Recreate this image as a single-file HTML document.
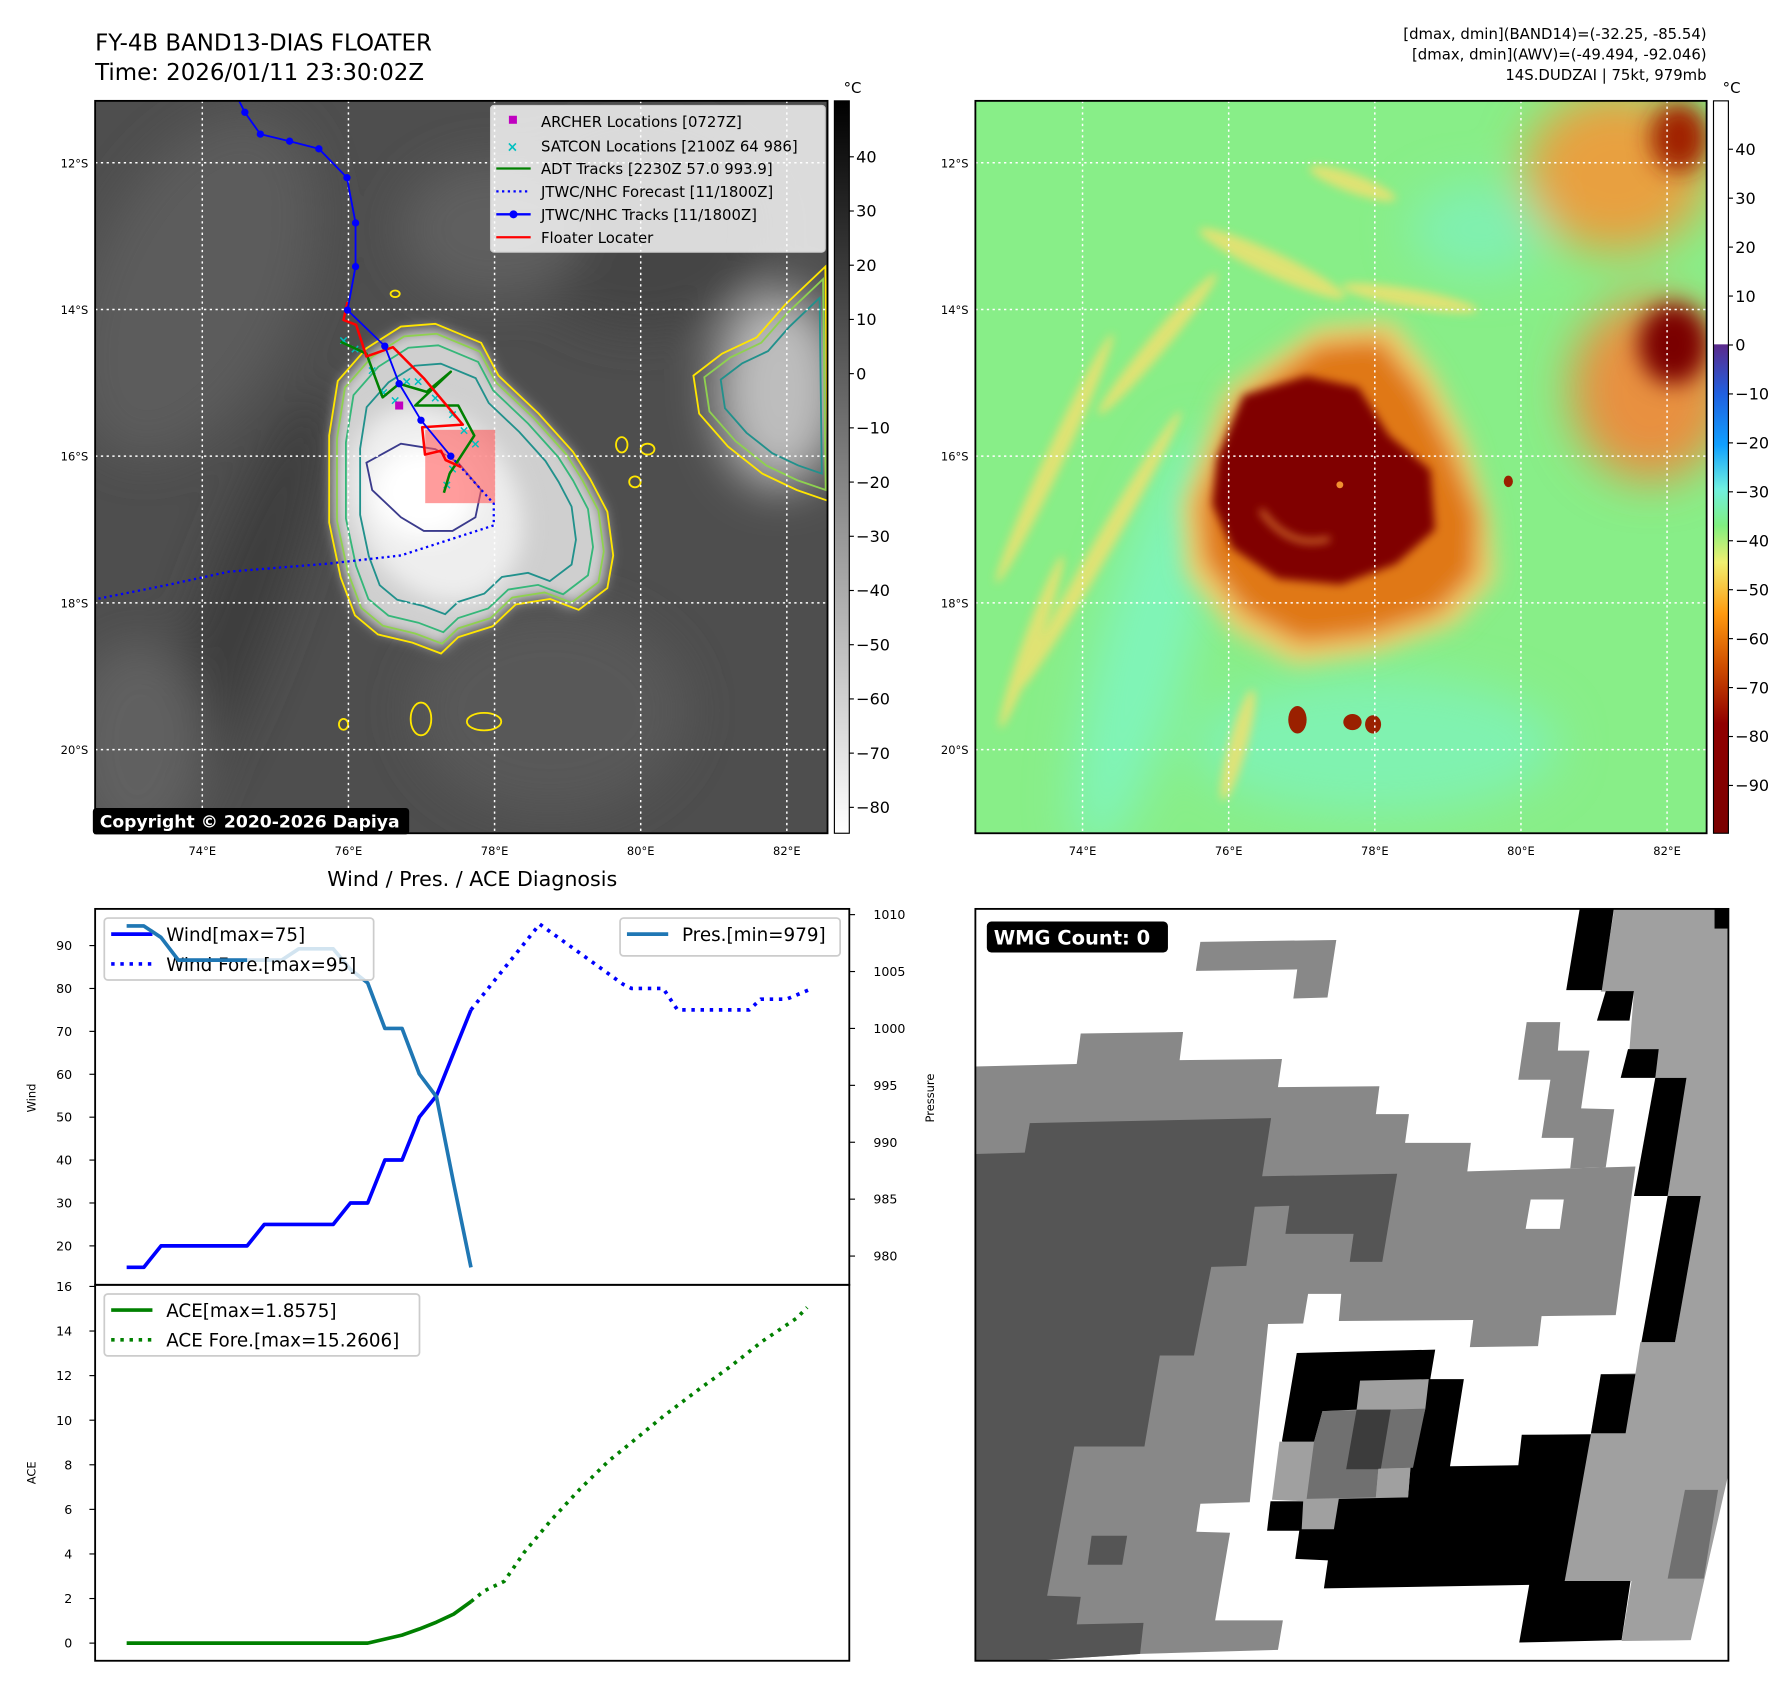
<!DOCTYPE html>
<html><head><meta charset="utf-8"><style>
html,body{margin:0;padding:0;background:#fff;}
svg{display:block;font-family:"DejaVu Sans","Liberation Sans",sans-serif;}
</style></head><body>
<svg id="root" xmlns="http://www.w3.org/2000/svg" width="1788" height="1690" viewBox="0 0 1560 1474.5">
<defs>
<filter id="b4" x="-50%" y="-50%" width="200%" height="200%"><feGaussianBlur stdDeviation="4"/></filter>
<filter id="b6" x="-50%" y="-50%" width="200%" height="200%"><feGaussianBlur stdDeviation="6"/></filter>
<filter id="b10" x="-50%" y="-50%" width="200%" height="200%"><feGaussianBlur stdDeviation="10"/></filter>
<filter id="b20" x="-50%" y="-50%" width="200%" height="200%"><feGaussianBlur stdDeviation="20"/></filter>
<clipPath id="c1"><rect x="83" y="88" width="639" height="639"/></clipPath>
<clipPath id="c2"><rect x="851" y="88" width="638" height="639"/></clipPath>
<clipPath id="c4"><rect x="851" y="793" width="657" height="656"/></clipPath>
<linearGradient id="gGray" x1="0" y1="0" x2="0" y2="1">
<stop offset="0" stop-color="#000"/><stop offset="1" stop-color="#fff"/></linearGradient>
<linearGradient id="gJet" x1="0" y1="0" x2="0" y2="1">
<stop offset="0" stop-color="#fff"/><stop offset="0.332" stop-color="#fff"/>
<stop offset="0.333" stop-color="#5b2a8c"/><stop offset="0.40" stop-color="#2060e0"/>
<stop offset="0.47" stop-color="#10a0ff"/><stop offset="0.53" stop-color="#70f0e0"/>
<stop offset="0.58" stop-color="#80f080"/><stop offset="0.63" stop-color="#f0f070"/>
<stop offset="0.70" stop-color="#ff9a10"/><stop offset="0.77" stop-color="#d05000"/>
<stop offset="0.85" stop-color="#900000"/><stop offset="1" stop-color="#7a0000"/></linearGradient>
</defs>

<text x="83" y="44" font-size="20">FY-4B BAND13-DIAS FLOATER</text>
<text x="83" y="70" font-size="20">Time: 2026/01/11 23:30:02Z</text>
<g font-size="13" text-anchor="end">
<text x="1489" y="34">[dmax, dmin](BAND14)=(-32.25, -85.54)</text>
<text x="1489" y="52">[dmax, dmin](AWV)=(-49.494, -92.046)</text>
<text x="1489" y="70">14S.DUDZAI | 75kt, 979mb</text>
</g>

<!-- MAP 1 -->
<g id="map1" clip-path="url(#c1)">
<rect x="83" y="88" width="639" height="639" fill="#4e4e4e"/>
<g filter="url(#b20)">
<ellipse cx="170" cy="250" rx="90" ry="160" fill="#5c5c5c" transform="rotate(25 170 250)"/>
<ellipse cx="210" cy="530" rx="35" ry="200" fill="#3e3e3e" transform="rotate(20 210 530)"/>
<ellipse cx="120" cy="650" rx="60" ry="90" fill="#606060"/>
<ellipse cx="480" cy="620" rx="120" ry="90" fill="#585858"/>
<ellipse cx="560" cy="200" rx="110" ry="90" fill="#444"/>
<ellipse cx="430" cy="200" rx="80" ry="60" fill="#5f5f5f"/>
<ellipse cx="680" cy="340" rx="55" ry="85" fill="#bdbdbd"/>
</g>
<g filter="url(#b6)">
<path id="blob" d="" fill="#cfcfcf"/>
</g>
<g filter="url(#b10)">
<ellipse cx="380" cy="440" rx="70" ry="90" fill="#eee" transform="rotate(-30 380 440)"/>
<ellipse cx="370" cy="430" rx="45" ry="40" fill="#fff"/>
</g>
<g id="contours" fill="none" stroke-width="1.6"></g>
<g id="gridlines1" stroke="#fff" stroke-width="1.3" stroke-dasharray="2,3"></g>
<rect x="371" y="375" width="61" height="64" fill="rgba(255,90,90,0.6)"/>
<g id="tracks"></g>
</g>
<rect x="83" y="88" width="639" height="639" fill="none" stroke="#000" stroke-width="1.6"/>

<g>
<rect x="428" y="92" width="292" height="128" rx="3" fill="#fff" fill-opacity="0.8" stroke="#ccc"/>
<g font-size="13">
<rect x="444" y="101" width="7" height="7" fill="#c000c0"/><text x="472" y="111">ARCHER Locations [0727Z]</text>
<text x="447" y="132" fill="#00c0c0" font-size="12" text-anchor="middle" font-weight="bold">×</text><text x="472" y="132">SATCON Locations [2100Z 64 986]</text>
<line x1="433" y1="147" x2="463" y2="147" stroke="#008000" stroke-width="2"/><text x="472" y="152">ADT Tracks [2230Z 57.0 993.9]</text>
<line x1="433" y1="167" x2="463" y2="167" stroke="#0000ff" stroke-width="2" stroke-dasharray="2,3"/><text x="472" y="172">JTWC/NHC Forecast [11/1800Z]</text>
<line x1="433" y1="187" x2="463" y2="187" stroke="#0000ff" stroke-width="2"/><circle cx="448" cy="187" r="3.5" fill="#00f"/><text x="472" y="192">JTWC/NHC Tracks [11/1800Z]</text>
<line x1="433" y1="207" x2="463" y2="207" stroke="#ff0000" stroke-width="2"/><text x="472" y="212">Floater Locater</text>
</g></g>
<g>
<rect x="81" y="705" width="276" height="23" rx="3" fill="#000"/>
<text x="87" y="722" fill="#fff" font-size="15" font-weight="bold">Copyright © 2020-2026 Dapiya</text>
</g>

<g>
<rect x="728" y="88" width="13" height="639" fill="url(#gGray)" stroke="#000" stroke-width="1"/>
<text x="736" y="81" font-size="13">°C</text>
<g id="cb1ticks" font-size="14"></g>
</g>

<!-- MAP 2 -->
<g clip-path="url(#c2)">
<rect x="851" y="88" width="638" height="639" fill="#88ee88"/>
<g filter="url(#b20)">
<ellipse cx="1000" cy="560" rx="40" ry="190" fill="#80f4b8" transform="rotate(15 1000 560)"/>
<ellipse cx="1200" cy="650" rx="160" ry="60" fill="#80f2b0"/>
<ellipse cx="1290" cy="200" rx="60" ry="40" fill="#80f0b0"/>
<ellipse cx="1410" cy="150" rx="80" ry="70" fill="#e8a040"/>
<ellipse cx="1440" cy="340" rx="70" ry="80" fill="#e89040"/>
</g>
<g filter="url(#b4)" fill="#f0e070" opacity="0.85">
<ellipse cx="920" cy="400" rx="8" ry="120" transform="rotate(25 920 400)"/>
<ellipse cx="960" cy="480" rx="8" ry="140" transform="rotate(30 960 480)"/>
<ellipse cx="900" cy="560" rx="7" ry="80" transform="rotate(20 900 560)"/>
<ellipse cx="1010" cy="300" rx="8" ry="80" transform="rotate(40 1010 300)"/>
<ellipse cx="1110" cy="230" rx="70" ry="10" transform="rotate(25 1110 230)"/>
<ellipse cx="1230" cy="260" rx="60" ry="8" transform="rotate(10 1230 260)"/>
<ellipse cx="1180" cy="160" rx="40" ry="8" transform="rotate(20 1180 160)"/>
<ellipse cx="1080" cy="650" rx="8" ry="50" transform="rotate(15 1080 650)"/>
</g>
<g filter="url(#b10)">
<path d="M1030,440 L1070,340 L1150,285 L1215,280 L1250,325 L1280,385 L1300,450 L1305,505 L1270,545 L1200,570 L1130,580 L1075,550 L1035,500 Z" fill="#f2d070"/>
<path d="M1045,440 L1080,350 L1150,300 L1205,295 L1240,340 L1268,395 L1290,450 L1288,500 L1255,535 L1195,555 L1135,562 L1085,535 L1050,490 Z" fill="#e07818"/>
<ellipse cx="1460" cy="300" rx="30" ry="35" fill="#7a0000"/>
<ellipse cx="1465" cy="120" rx="25" ry="30" fill="#a02000"/>
</g>
<g filter="url(#b4)">
<path d="M1062,400 L1085,345 L1140,328 L1185,338 L1212,380 L1248,410 L1252,462 L1218,492 L1170,510 L1115,505 L1075,478 L1058,440 Z" fill="#800000"/>
</g>
<path d="M1100,445 Q1125,480 1160,470" stroke="#e08030" stroke-width="4" fill="none" filter="url(#b4)"/>
<circle cx="1169" cy="423" r="3" fill="#f09030"/>
<g fill="#9a2000"><ellipse cx="1132" cy="628" rx="8" ry="12"/><ellipse cx="1180" cy="630" rx="8" ry="7"/><ellipse cx="1198" cy="632" rx="7" ry="8"/><ellipse cx="1316" cy="420" rx="4" ry="5"/></g>
<g id="gridlines2" stroke="#fff" stroke-width="1.3" stroke-dasharray="2,3"></g>
</g>
<rect x="851" y="88" width="638" height="639" fill="none" stroke="#000" stroke-width="1.6"/>
<g>
<rect x="1495" y="88" width="13" height="639" fill="url(#gJet)" stroke="#000" stroke-width="1"/>
<text x="1503" y="81" font-size="13">°C</text>
<g id="cb2ticks" font-size="14"></g>
</g>
<g id="mapticks" font-size="10"></g>

<text x="412" y="773" font-size="18" text-anchor="middle">Wind / Pres. / ACE Diagnosis</text>
<g id="chart"></g>

<g clip-path="url(#c4)">
<rect x="851" y="793" width="657" height="656" fill="#fff"/>
<g id="wmg"></g>
</g>
<rect x="851" y="793" width="657" height="656" fill="none" stroke="#000" stroke-width="1.6"/>
<g>
<rect x="861" y="804" width="158" height="27" rx="4" fill="#000"/>
<text x="867" y="824" fill="#fff" font-size="17" font-weight="bold">WMG Count: 0</text>
</g>

<script>
const obsHours = [0,6,12,18,24,30,36,42,48,54,60,66,72,78,84,90,96,102,108,114,120];
const windObs = [15,15,20,20,20,20,20,20,25,25,25,25,25,30,30,40,40,50,55,65,75];
const presObs = [1009,1009,1008,1006,1006,1006,1006,1006,1006,1006,1007,1007,1007,1005.2,1004,1000,1000,996,994,986.4,979];
const aceObs = [0,0,0,0,0,0,0,0,0,0,0,0,0,0,0,0.18,0.36,0.63,0.94,1.3,1.86];
const windFcstHours = [120,144,173,176,187,192,217,221,230,239];
const windFcst = [75,95,81,80,80,75,75,77.5,77.5,80];
const aceFcstHours = [120,124.6,131.6,138.6,148,158,168,175.6,187,198.6,210.4,221.6,233.6,237.2];
const aceFcst = [1.86,2.34,2.77,4.07,5.52,6.91,8.17,8.96,10.17,11.3,12.4,13.54,14.58,15.06];
const windTicks = [20,30,40,50,60,70,80,90];
const presTicks = [980,985,990,995,1000,1005,1010];
const aceTicks = [0,2,4,6,8,10,12,14,16];
const grayTicks = [40,30,20,10,0,-10,-20,-30,-40,-50,-60,-70,-80];
const jetTicks = [40,30,20,10,0,-10,-20,-30,-40,-50,-60,-70,-80,-90];

const NS="http://www.w3.org/2000/svg";
function mk(tag, attrs, parent){const e=document.createElementNS(NS,tag);for(const k in attrs)e.setAttribute(k,attrs[k]);parent.appendChild(e);return e;}
const X=h=>110.5+h*2.503;
const Yw=v=>825+(90-v)*3.743;
const Yp=v=>798+(1010-v)*9.93;
const Ya=v=>1433.6-v*19.45;
const chart=document.getElementById('chart');

let f=mk('rect',{x:83,y:793,width:658,height:328,fill:'none',stroke:'#000','stroke-width':1.6},chart);


f=mk('rect',{x:83,y:1121,width:658,height:328,fill:'none',stroke:'#000','stroke-width':1.6},chart);



function ticks(arr, yfn, side){
  arr.forEach(v=>{
    const y=yfn(v);
    if(side==='L'){
      mk('line',{x1:78,y1:y,x2:83,y2:y,stroke:'#000','stroke-width':1},chart);
      const t=mk('text',{x:63,y:y+4,'font-size':11,'text-anchor':'end'},chart);t.textContent=v;
      
      
    } else {
      mk('line',{x1:741,y1:y,x2:746,y2:y,stroke:'#000','stroke-width':1},chart);
      const t=mk('text',{x:762,y:y+4,'font-size':11},chart);t.textContent=v;
      
      
    }
  });
}
ticks(windTicks,Yw,'L');ticks(aceTicks,Ya,'L');ticks(presTicks,Yp,'R');
function vlabel(txt,x,y,name){const t=mk('text',{x:x,y:y,'font-size':10,'text-anchor':'middle',transform:`rotate(-90 ${x} ${y})`},chart);t.textContent=txt;

}
vlabel('Wind',31,958,'wind-axis-title');vlabel('ACE',31,1285,'ace-axis-title');vlabel('Pressure',815,958,'pressure-axis-title');

function line(hs,vs,yfn,color,w,dash,name){
  const d=hs.map((h,i)=>(i?'L':'M')+X(h).toFixed(1)+','+yfn(vs[i]).toFixed(1)).join(' ');
  const p=mk('path',{d:d,fill:'none',stroke:color,'stroke-width':w,'stroke-linejoin':'round'},chart);
  if(dash)p.setAttribute('stroke-dasharray',dash);
  
  
}
line(windFcstHours,windFcst,Yw,'#0000ff',3.2,'3,5','wind-forecast-line');
line(obsHours,windObs,Yw,'#0000ff',3.2,null,'wind-line');
line(obsHours,presObs,Yp,'#1f77b4',3.2,null,'pressure-line');
line(aceFcstHours,aceFcst,Ya,'#008000',3.2,'3,5','ace-forecast-line');
line(obsHours,aceObs,Ya,'#008000',3.2,null,'ace-line');

function legend(x,y,w,h,items,name){
  const g=mk('g',{},chart);
  
  
  mk('rect',{x:x,y:y,width:w,height:h,rx:3,fill:'#fff','fill-opacity':0.8,stroke:'#ccc','stroke-width':1.5},g);
  items.forEach((it,i)=>{
    const yy=y+14+i*26;
    const l=mk('line',{x1:x+6,y1:yy,x2:x+42,y2:yy,stroke:it[1],'stroke-width':3.2},g);
    if(it[2])l.setAttribute('stroke-dasharray','3,5');
    const t=mk('text',{x:x+54,y:yy+6,'font-size':16},g);t.textContent=it[0];
  });
}
legend(91,801,235,54,[['Wind[max=75]','#0000ff',0],['Wind Fore.[max=95]','#0000ff',1]],'wind-legend');
legend(541,801,192,33,[['Pres.[min=979]','#1f77b4',0]],'pressure-legend');
legend(91,1129,275,54,[['ACE[max=1.8575]','#008000',0],['ACE Fore.[max=15.2606]','#008000',1]],'ace-legend');
line(obsHours.slice(0,8),presObs.slice(0,8),Yp,'#1f77b4',3.2,null,'pressure-line-overlay');

const cb1=document.getElementById('cb1ticks');
grayTicks.forEach(v=>{const y=326-v*4.73;mk('line',{x1:741,y1:y,x2:745,y2:y,stroke:'#000'},cb1);
 const t=mk('text',{x:747,y:y+5},cb1);t.textContent=v<0?'\u2212'+(-v):v;});
const cb2=document.getElementById('cb2ticks');
jetTicks.forEach(v=>{const y=301-v*4.27;mk('line',{x1:1508,y1:y,x2:1512,y2:y,stroke:'#000'},cb2);
 const t=mk('text',{x:1514,y:y+5},cb2);t.textContent=v<0?'\u2212'+(-v):v;});

const lons=[74,76,78,80,82], lats=[12,14,16,18,20];
const LX=l=>304+(l-76)*63.75, LY=l=>270+(l-14)*64;
const mt=document.getElementById('mapticks');
[[document.getElementById('gridlines1'),0],[document.getElementById('gridlines2'),768]].forEach(([g,o])=>{
 lons.forEach(l=>{mk('line',{x1:LX(l)+o,y1:88,x2:LX(l)+o,y2:727},g);
   const t=mk('text',{x:LX(l)+o,y:746,'text-anchor':'middle'},mt);t.textContent=l+'°E';});
 lats.forEach(l=>{mk('line',{x1:83+o,y1:LY(l),x2:722+o,y2:LY(l)},g);
   const t=mk('text',{x:77+o,y:LY(l)+4,'text-anchor':'end'},mt);t.textContent=l+'°S';});
});

const Z=(x,y)=>[83+(x-167)/1.998,88+(y-186)/2.103];
const pth=pts=>pts.map((p,i)=>{const q=Z(p[0],p[1]);return (i?'L':'M')+q[0].toFixed(1)+','+q[1].toFixed(1);}).join(' ');
const cont=document.getElementById('contours');
const outer=[[575,800],[590,700],[640,640],[700,600],[760,595],[840,630],[870,690],[940,760],[1000,830],[1030,880],[1060,940],[1070,1020],[1060,1080],[1010,1120],[960,1100],[900,1110],[860,1150],[800,1170],[770,1200],[720,1180],[660,1165],[620,1130],[595,1060],[575,960]];
document.getElementById('blob').setAttribute('d',pth(outer.map(p=>[800+(p[0]-800)*0.97,900+(p[1]-900)*0.97]))+'Z');
[['#ffe600',1],['#8fd14f',0.94],['#35b779',0.87],['#21918c',0.76]].forEach(([c,s])=>{
  mk('path',{d:pth(outer.map(p=>[800+(p[0]-800)*s,900+(p[1]-900)*s]))+'Z',stroke:c},cont);});
mk('path',{d:pth([[640,850],[700,815],[760,825],[800,850],[840,900],[830,950],[790,975],[740,975],[700,950],[650,900]])+'Z',stroke:'#3b3b8c'},cont);
const rb=[[1210,690],[1260,650],[1320,620],[1370,560],[1440,490],[1445,920],[1390,900],[1330,870],[1270,820],[1220,760]];
[['#ffe600',1],['#8fd14f',0.9],['#21918c',0.75]].forEach(([c,s])=>{
  mk('path',{d:pth(rb.map(p=>[1400+(p[0]-1400)*s,720+(p[1]-720)*s]))+'Z',stroke:c},cont);});
[[735,1320,18,30],[845,1325,30,16],[600,1330,8,10],[690,540,8,6],[1085,817,10,14],[1130,825,12,10],[1108,885,10,10]].forEach(e=>{
  const q=Z(e[0],e[1]);mk('ellipse',{cx:q[0],cy:q[1],rx:e[2]/2,ry:e[3]/2.1,stroke:'#ffe600'},cont);});

const tr=document.getElementById('tracks');
function tline(pts,color,w,dash,name){const p=mk('path',{d:pth(pts),fill:'none',stroke:color,'stroke-width':w,'stroke-linejoin':'round'},tr);
 if(dash)p.setAttribute('stroke-dasharray',dash);
 
 }
tline([[787,838],[862,925],[862,965],[700,1020],[575,1035],[400,1050],[290,1075],[170,1100]],'#0000ff',2,'2,3','jtwc-forecast-track');
[[620,640],[650,680],[670,720],[690,735],[710,700],[730,700],[760,730],[790,760],[810,790],[830,815],[790,860],[780,890],[600,625]].forEach(p=>{
 const q=Z(p[0],p[1]);const t=mk('text',{x:q[0],y:q[1]+4,'font-size':11,'text-anchor':'middle',fill:'#00c0c0','font-weight':'bold'},tr);t.textContent='×';});
tline([[595,628],[640,650],[668,730],[697,705],[745,720],[787,683],[725,745],[800,745],[828,800],[785,870],[775,905]],'#008000',2.2,null,'adt-track');
tline([[607,555],[600,588],[622,597],[640,655],[686,638],[740,695],[808,780],[737,785],[742,835],[770,828],[778,845],[805,858]],'#ff0000',2.2,null,'floater-locater');
const jt=[[418,186],[428,207],[455,247],[506,260],[557,274],[606,327],[621,410],[621,490],[607,570],[672,636],[697,705],[735,772],[787,838]];
tline(jt,'#0000ff',1.6,null,'jtwc-track');
jt.slice(1).forEach(p=>{const q=Z(p[0],p[1]);mk('circle',{cx:q[0],cy:q[1],r:3.2,fill:'#0000ff'},tr);});
const aq=Z(697,745);mk('rect',{x:aq[0]-3.5,y:aq[1]-3.5,width:7,height:7,fill:'#c000c0'},tr);

const W=(x,y)=>[851+(x-5)*0.4314,793+(y-5)*0.4296];
const wmg=document.getElementById('wmg');
function poly(pts,fill){mk('path',{d:pts.map((p,i)=>{const q=W(p[0],p[1]);return (i?'L':'M')+q[0].toFixed(1)+','+q[1].toFixed(1);}).join(' ')+'Z',fill:fill},wmg);}
poly([[460,72],[735,68],[717,185],[648,187],[656,128],[451,131]],'#888');
poly([[0,325],[210,320],[218,258],[425,255],[418,312],[625,310],[617,367],[822,365],[815,422],[882,422],[874,480],[1007,480],[1000,538],[1208,532],[1340,528],[1300,830],[1150,832],[1143,893],[1005,895],[1012,840],[740,842],[745,787],[678,787],[668,847],[597,848],[560,1210],[460,1213],[452,1270],[520,1272],[490,1450],[627,1450],[617,1510],[340,1518],[0,1540]],'#888');
poly([[1120,235],[1188,235],[1183,293],[1247,293],[1230,410],[1297,412],[1280,530],[1208,532],[1215,470],[1150,470],[1168,352],[1103,352]],'#888');
poly([[1128,595],[1195,595],[1187,655],[1118,655]],'#fff');
poly([[0,503],[105,500],[115,440],[603,430],[585,548],[858,543],[828,722],[762,722],[770,665],[632,665],[640,608],[570,610],[553,730],[482,732],[447,912],[378,912],[347,1097],[205,1097],[150,1400],[218,1402],[210,1458],[345,1455],[338,1518],[0,1540]],'#555');
poly([[240,1278],[312,1278],[302,1337],[232,1337]],'#555');
poly([[1298,0],[1500,0],[1500,45],[1540,45],[1540,1100],[1490,1320],[1452,1490],[1312,1492],[1332,1370],[1197,1370],[1218,1228],[1250,1070],[1270,950],[1340,948],[1350,885],[1420,885],[1470,588],[1405,588],[1440,348],[1380,348],[1385,290],[1328,290],[1337,173],[1270,173]],'#a0a0a0');
poly([[1440,1185],[1507,1185],[1478,1365],[1405,1365]],'#707070');
[[[1228,0],[1297,0],[1272,170],[1200,170]],[[1280,172],[1337,172],[1328,232],[1262,232]],[[1325,290],[1387,290],[1380,348],[1310,348]],
 [[1380,348],[1443,348],[1405,588],[1337,588]],[[1405,588],[1472,588],[1420,885],[1352,885]],[[1500,0],[1540,0],[1540,45],[1500,45]],
 [[1270,950],[1340,950],[1320,1070],[1250,1070]],
 [[655,907],[935,900],[925,960],[993,960],[965,1137],[1103,1135],[1110,1073],[1250,1072],[1197,1370],[1330,1370],[1312,1490],[1105,1495],[1125,1378],[710,1385],[718,1328],[652,1325],[660,1268],[595,1268],[602,1208],[670,1208],[625,1085]]
].forEach(p=>poly(p,'#000'));
poly([[783,963],[922,960],[915,1020],[885,1140],[880,1200],[740,1203],[730,1265],[665,1265],[668,1208],[605,1205],[620,1087],[690,1087],[707,1025],[776,1022]],'#a0a0a0');
poly([[707,1025],[915,1020],[890,1140],[820,1142],[815,1200],[675,1203],[690,1087]],'#707070');
poly([[776,1022],[845,1022],[825,1143],[755,1143]],'#3c3c3c');
poly([[820,1142],[885,1140],[880,1200],[815,1200]],'#a0a0a0');
</script>
</svg>
</body></html>
